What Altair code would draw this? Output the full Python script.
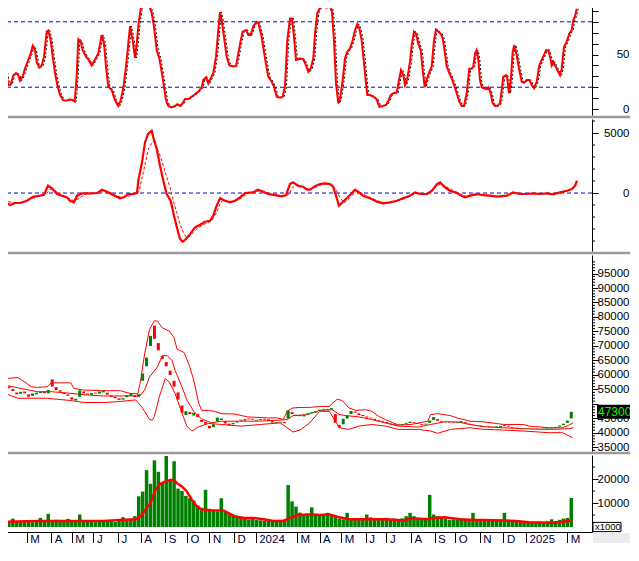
import json
import altair as alt
import pandas as pd

# ---------------- data (session index on x) ----------------
X_DOMAIN = [0, 592]

RSI_T = [0, 3.3, 6, 8.3, 10.7, 13.3, 16, 18.3, 20, 22.7, 25, 28.3, 30.7, 32.7, 35, 36.7, 39.3, 41.7, 44, 46.7,
         48.3, 50.7, 52.7, 55, 57.3, 60, 63.3, 66.7, 70, 72.7, 74.7, 76.7, 78.3, 80.7, 82.7, 86, 88.3, 91.7, 95, 98.3,
         101.7, 104, 106, 108.3, 111.7, 115, 118.3, 120.7, 123.3, 126, 128.3, 130, 132.7, 135, 136.7, 138.7, 140.7,
         144, 146.7, 149.3, 151.7, 154, 156.7, 159.3, 161.7, 164, 166, 168.3, 171.7, 175, 177.3, 180, 182.7, 185,
         188.3, 191.7, 195, 198.3, 201.7, 203.3, 206, 208.3, 210.7, 213.3, 216, 218.3, 220, 221.7, 224, 226.7, 229.3,
         233.3, 236, 238.3, 240.7, 242.7, 246, 248.3, 250.7, 253.3, 256.7, 258.3, 261.7, 265, 268.3, 271.7, 274,
         276.7, 280, 282.7, 285, 287.3, 290, 292, 294, 296, 298.3, 300, 303.3, 306, 308.3, 310.7, 313.3, 315, 317.3,
         320, 323.3, 326.7, 330, 332, 334, 336, 338.3, 340, 342.7, 345, 347.3, 350, 352.7, 355, 357.3, 359.3, 361.7,
         364, 366, 367.3, 370, 373.3, 376.7, 379.3, 382.7, 386, 388.3, 390.7, 393.3, 396.7, 399, 401, 403.3, 405,
         407.3, 410, 411.7, 414, 416, 418.3, 420.7, 422.7, 424.7, 426.7, 429.3, 431.7, 434, 436, 438.3, 440.7, 442.7,
         445, 446.7, 449.3, 451.7, 454, 456.7, 459.3, 461.7, 464, 466.7, 469.3, 471.7, 473.3, 475, 476.7, 478.3, 480,
         481.7, 484, 486.7, 488.3, 490.7, 492.7, 495, 497.3, 500, 501.7, 503.3, 506, 507.3, 509, 510.7, 512.7, 514.3,
         516.7, 519, 521.7, 524, 526.7, 529.3, 531.7, 534, 536.7, 539.3, 541.7, 544, 546, 548.3, 550, 551.7, 553.3,
         555, 557.3, 560, 561.7, 564, 566.7, 569.3, 571.7, 573.3, 575, 576.7]
RSI_V = [77, 51, 34, 22, 22.6, 31, 33, 31, 26, 30, 37, 45, 51, 58, 54, 43, 38, 40, 48, 71,
         72, 63, 48, 33, 22, 13, 8, 7.6, 8.9, 8, 6.7, 30, 64, 62, 54, 48, 45.5, 40, 45.5, 51,
         68, 60, 39, 20.5, 17.4, 8, 2.8, 8, 19, 39, 60, 76, 63, 47, 60, 79, 92,
         94.5, 96, 94.5, 88, 75.5, 54, 46.5, 34, 20.5, 8, 2.8, 1.5, 2.8, 4.3, 2.8, 5.2, 9.2,
         9.2, 11.3, 13.5, 16, 20, 26.6, 29, 23.5, 28, 33, 48, 72.5, 89, 81.6, 66, 48, 40,
         39, 39.4, 51, 63, 71, 72.5, 68, 68, 76, 80, 79, 66, 46.5, 29.7, 25, 20.5,
         11.3, 10.4, 11.3, 20.5, 63, 83, 83, 66, 45, 45.5, 46.5, 45.5, 40, 34, 37, 46.5, 69, 88,
         93, 94, 93, 94.5, 89, 63, 23.5, 5.2, 9.8, 26.6, 46.5, 52.6, 55.7, 63, 72.5, 78, 74, 63,
         42, 23.5, 12.8, 12.8, 11.3, 8.9, 2.1, 2.8, 3.7, 7.3, 12.8, 14.4, 15, 26.6, 35.8, 31, 22,
         28, 43.4, 58.7, 71, 69, 60, 54, 35.8, 20, 27, 34, 39, 63, 73, 71, 69, 65,
         51, 39, 33, 28, 22, 14.4, 6.7, 2.8, 2.8, 14.4, 37, 37, 39, 51, 54, 45, 26.6,
         20, 19, 18, 20, 14.4, 5.2, 2.8, 2.8, 5.2, 17.4, 29.7, 31, 28, 14.4, 25, 52.6, 58.7,
         49.5, 37, 25, 24, 26.6, 26.6, 22, 19, 25, 40, 45, 49.5, 54, 54, 48, 40, 43.4,
         40, 35.8, 31, 37, 57, 61.8, 69, 72.5, 81.6, 85, 92]
RSI_LEVELS = [20, 80]

MACD_T = [0, 5, 10, 15, 20, 27, 33, 40, 44, 48, 52, 57, 62, 67, 70, 74, 77, 82, 90, 97, 102, 107, 113, 120, 124,
          128, 133, 137, 138.3, 142, 145, 148, 151.7, 153.3, 156.7, 160, 163.3, 166.7, 170.7, 174, 177.3, 180,
          182.7, 186, 190, 195, 200, 205, 210, 213.3, 216.7, 220, 225, 230, 235, 240, 245, 253, 258, 263, 268, 275,
          282, 286, 290, 293, 298, 303, 307, 310, 315, 320, 325, 330, 333, 336, 339, 343, 350, 355, 358, 363, 370,
          377, 383, 390, 397, 403, 410, 415, 420, 427, 432, 437, 440, 445, 450, 457, 460, 465, 470, 477, 483, 490,
          497, 502, 507, 513, 520, 527, 533, 540, 547, 553, 560, 567, 572, 575, 577]
MACD_V = [-360, -720, -1000, -830, -830, -640, -305, -220, -140, 610, 390, -80, -220, -360, -640, -780, -220, -30,
          -30, 0, 280, 110, -170, -440, -360, -80, -80, 0, 1030, 2560, 4220, 4920, 5190, 4640, 3670, 2280, 1030, -80,
          -640, -1890, -3000, -3830, -4060, -3830, -3420, -2860, -2640, -2390, -2310, -1890, -1060, -440, -640, -780,
          -640, -360, 0, 55, 280, 110, -80, -170, -280, -170, 750, 890, 610, 530, 280, 280, 560, 750, 800, 750, 560,
          -220, -1060, -720, -170, 280, 110, -220, -440, -720, -860, -780, -640, -440, -220, 55, -80, -80, 190, 750,
          890, 470, 190, 0, -170, -360, -220, -80, -170, -220, -305, -260, -220, 55, -80, -80, -30, -80, -30, -110,
          55, 190, 330, 610, 1030]
SIGNAL_T = [0, 8, 16, 24, 32, 40, 46, 51, 56, 62, 68, 74, 79, 85, 95, 103, 108, 115, 122, 127, 134, 139, 143.3,
            148.3, 153.3, 156.7, 160, 163.3, 166.7, 170, 173.3, 176.7, 180, 183.3, 186.7, 190, 193.3, 196.7, 201.7,
            206.7, 211.7, 216.7, 220, 223, 228, 233, 238, 243, 248, 255, 260, 265, 270, 278, 285, 289, 292, 296, 301,
            306, 311, 316, 322, 327, 332, 336, 340, 344, 350, 356, 360, 365, 372, 379, 386, 393, 400, 407, 413, 418,
            425, 430, 435, 441, 446, 452, 458, 463, 468, 474, 480, 487, 494, 500, 506, 512, 517, 524, 531, 538, 545,
            552, 559, 565, 570, 574, 577]
SIGNAL_V = [-250, -700, -850, -750, -450, -250, -100, 350, 150, -150, -400, -650, -450, -100, -30, 150, 130, -150,
            -400, -300, -100, 100, 1720, 3670, 4360, 3810, 3110, 2280, 1310, 470, -640, -1610, -2580, -3280, -3700,
            -3610, -3280, -3000, -2720, -2500, -2310, -1610, -920, -560, -650, -720, -600, -300, -30, 50, 220, 120, -60,
            -180, -250, -100, 400, 700, 600, 380, 330, 500, 720, 780, 680, 300, -400, -800, -400, 120, 80, -180, -450,
            -700, -830, -750, -580, -380, -120, 20, -60, 50, 450, 800, 550, 250, 20, -200, -320, -200, -120, -180,
            -250, -280, -230, -50, 0, -70, -50, -60, -40, -80, 0, 130, 260, 450, 700]

CANDLE_T = list(range(0, 580, 4))
CANDLE_OPEN = [57500, 56000, 55200, 54000, 53500, 54300, 53300, 52800, 53300, 53800, 54200, 53700, 58500, 55800,
               54700, 53900, 53300, 52300, 51200, 52500, 54300, 53600, 53200, 53900, 53600, 54000, 53900, 53000,
               52500, 51900, 51500, 52300, 52800, 53000, 52500, 58000, 63000, 70000, 77000, 71000, 66500, 64500,
               61500, 58000, 54000, 49500, 46200, 47200, 46000, 46500, 44500, 43800, 42500, 42000, 44000, 44500,
               44000, 43200, 43000, 43600, 44600, 44300, 45000, 44900, 44300, 44500, 44600, 44700, 44100, 43500,
               43600, 43800, 45000, 47200, 46000, 46200, 45700, 46300, 46800, 47000, 47600, 48000, 48200, 48100,
               46500, 42800, 43000, 45000, 46500, 47400, 46800, 46200, 45700, 45300, 44900, 44400, 44200, 43800,
               43000, 43200, 43000, 42800, 43000, 43400, 43700, 43400, 43100, 42900, 43500, 44500, 44800, 44200,
               43700, 43900, 43700, 43400, 43600, 43700, 43200, 42900, 42400, 42600, 42200, 42400, 42200, 42100,
               42100, 42300, 42500, 42100, 41800, 41700, 41400, 41600, 41300, 41500, 41200, 41300, 41500, 41600,
               41800, 42200, 42700, 43500, 45000]
CANDLE_CLOSE = [56500, 55400, 54500, 53400, 54200, 53700, 52500, 53600, 53900, 54200, 53700, 54800, 56000, 54800,
                54200, 53400, 52800, 51500, 51800, 54700, 53700, 53200, 53800, 53600, 54300, 54700, 53200, 52500,
                52000, 51400, 52000, 53000, 53500, 52400, 53400, 60500, 66000, 73500, 72500, 68500, 65500, 63000,
                60000, 56000, 51500, 47000, 47500, 46500, 47000, 45500, 43800, 43200, 41600, 43000, 45300, 45000,
                43300, 42700, 43500, 44000, 44300, 44800, 44700, 44600, 44600, 44800, 44900, 44200, 43600, 43800,
                43900, 43400, 47800, 46500, 46300, 45800, 46200, 46800, 47100, 47500, 48000, 48300, 47900, 48600,
                43500, 41900, 44900, 46000, 47600, 47000, 46200, 45800, 45300, 45000, 44500, 44100, 43900, 43400,
                43300, 42800, 42700, 43100, 43400, 43900, 43400, 43100, 42800, 43200, 44300, 45500, 44200, 43900,
                43900, 43600, 43500, 43700, 44100, 43300, 42900, 42700, 42600, 42300, 42400, 42100, 42000, 42300,
                42400, 42700, 42200, 41800, 41600, 41500, 41600, 41400, 41500, 41300, 41400, 41500, 41700, 41800,
                42100, 42600, 43200, 44300, 47300]
LAST_CLOSE = 47300

BB_UPPER_T = [0, 13, 20, 27, 33, 43, 47, 67, 70, 80, 100, 117, 127, 135, 138, 142, 147, 152, 155, 160, 167, 172,
              175, 182, 187, 192, 197, 200, 207, 213, 220, 233, 247, 267, 277, 283, 287, 292, 300, 310, 320, 330,
              333, 338, 343, 350, 357, 367, 373, 380, 387, 400, 413, 430, 433, 440, 453, 460, 473, 487, 507, 527,
              533, 553, 567, 573, 578]
BB_UPPER = [58760, 59100, 57630, 55930, 55710, 55930, 57290, 57290, 55370, 54800, 54580, 54580, 53670, 53450, 58190,
            67230, 75710, 78760, 78530, 76270, 75140, 72880, 68930, 67800, 63840, 58190, 50280, 47800, 47800, 47460,
            46670, 46550, 45540, 45200, 45200, 44630, 47460, 48590, 48810, 48810, 49150, 49150, 50280, 51640, 51190,
            48590, 47800, 48020, 47460, 45760, 44630, 42710, 42940, 44070, 46330, 46670, 45990, 45200, 44070, 43840,
            42940, 42940, 42370, 41810, 41810, 42600, 43500]
BB_MID_T = [0, 13, 33, 47, 67, 83, 100, 117, 133, 137, 142, 147, 155, 160, 165, 170, 173, 180, 185, 192, 197, 200,
            210, 220, 233, 253, 273, 287, 293, 307, 320, 333, 340, 347, 360, 373, 387, 400, 420, 433, 447, 460, 473,
            487, 507, 527, 553, 573, 578]
BB_MID = [56500, 55590, 54240, 54240, 53670, 53110, 52770, 52770, 52770, 52770, 54800, 59320, 62710, 66670, 66670,
          64970, 61580, 55930, 51410, 47460, 45760, 44860, 43500, 44070, 44070, 44070, 44290, 44630, 45990, 46330,
          47800, 48020, 46330, 45990, 45540, 44630, 43500, 42370, 42030, 42940, 43840, 43840, 42940, 42150, 41810,
          41470, 41240, 41470, 41810]
BB_LOWER_T = [0, 13, 27, 43, 53, 67, 80, 100, 117, 133, 140, 147, 150, 152, 157, 163, 167, 173, 180, 185, 190, 197,
              207, 220, 240, 260, 280, 287, 293, 300, 310, 320, 330, 340, 350, 360, 373, 387, 400, 420, 433, 440, 453,
              473, 487, 507, 527, 553, 567, 577]
BB_LOWER = [53670, 51980, 51980, 51980, 51640, 51190, 50510, 50510, 50850, 51410, 48590, 44630, 44410, 45760, 52540,
            58760, 57630, 53670, 46890, 42370, 40680, 42150, 43280, 42940, 42370, 42940, 43500, 41810, 40340, 41020,
            43500, 47460, 47460, 41810, 41240, 42370, 42940, 42370, 41240, 41240, 40680, 39890, 41240, 41810, 41240,
            41020, 40680, 40110, 40110, 38420]

VOL_T = list(range(0, 580, 4))
VOLUME = [2200, 2500, 3500, 2500, 2200, 2800, 2300, 2000, 2400, 3800, 2500, 5500, 2800, 3000, 2200, 2600, 3400,
          2500, 2300, 5200, 2600, 2200, 2400, 2000, 2100, 2300, 2200, 2400, 2100, 2500, 4100, 2600, 3000, 4500,
          12800, 14800, 23700, 18000, 27800, 23000, 18500, 29600, 19600, 27400, 16000, 15000, 13000, 12000, 11000,
          9000, 8000, 15500, 7500, 7000, 6500, 12000, 6500, 5800, 5200, 4500, 4000, 3500, 3200, 3500, 3000, 2800,
          2700, 2700, 2500, 2600, 2400, 2500, 17500, 10700, 8500, 6000, 5200, 5500, 8200, 5000, 5000, 5200, 5900,
          4800, 4500, 3500, 3200, 5900, 3000, 3200, 3000, 3500, 5200, 4000, 3600, 3000, 3200, 3800, 3000, 3500,
          3200, 3600, 4500, 5900, 4500, 3800, 3500, 3800, 13400, 5200, 4500, 4200, 3500, 3000, 3200, 3000, 3500,
          3200, 3200, 5900, 3000, 3200, 2800, 3000, 3200, 2800, 3000, 5900, 3000, 2600, 2400, 2200, 2500, 2300,
          2200, 2000, 2200, 2000, 2400, 3200, 2500, 3000, 3500, 3800, 12100]
VOL_MA_T = [0, 33, 67, 100, 117, 133, 138, 143, 148, 153, 158, 163, 168, 172, 175, 180, 185, 190, 195, 200, 210, 222,
            227, 233, 243, 253, 263, 273, 283, 290, 297, 307, 313, 320, 330, 340, 350, 370, 387, 407, 413, 430, 435,
            447, 453, 463, 477, 487, 507, 520, 533, 553, 560, 567, 577]
VOL_MA = [2200, 2500, 2500, 2500, 2900, 3200, 4500, 7300, 10000, 15500, 18000, 18900, 19600, 19600, 18200, 16900,
          14800, 11400, 8600, 7300, 7000, 6900, 5900, 4500, 3800, 3800, 3200, 2500, 2500, 3800, 4900, 5200, 5200, 5000,
          5200, 4100, 3200, 3200, 3200, 2700, 3600, 3200, 3800, 4100, 3800, 3200, 2900, 2900, 2700, 2500, 2000, 1800,
          1800, 2200, 2700]

MONTH_T = [22, 47, 68, 90, 115, 138, 163, 185, 208, 233, 255, 297, 320, 342, 367, 388, 413, 437, 458, 483, 507,
           530, 572]
MONTH_LABELS = ["M", "A", "M", "J", "J", "A", "S", "O", "N", "D", "2024", "M", "A", "M", "J", "J", "A", "S", "O",
                "N", "D", "2025", "M"]

# ---------------- styling ----------------
W = 592
H_RSI, H_MACD, H_PRICE, H_VOL = 115, 132, 196, 77
FONT = "Liberation Sans"
RED, GREEN, BLUE = "#ff0000", "#008000", "#0000cc"
SEP = "#9a9a9a"
TICK, MINOR_TICK = 6, 3
LABEL_RIGHT = 629

xs = alt.Scale(domain=X_DOMAIN, nice=False, zero=False)


def X(axis=None):
    return alt.X("t:Q", scale=xs, axis=axis)


def yaxis(values, shown):
    return alt.Axis(orient="right", values=values, tickSize=TICK, labelPadding=LABEL_RIGHT - W - TICK,
                    labelAlign="right", format="d", title=None, grid=False,
                    labelExpr="indexof(%s, datum.value) >= 0 ? datum.label : ''" % json.dumps(shown))


one = pd.DataFrame({"a": [0]})


def separator():
    return alt.Chart(one).mark_rule(color=SEP, strokeWidth=2.5).encode(
        x=alt.value(0), x2=alt.value(LABEL_RIGHT + 10), y=alt.value(-2))


def minor(values, yfn):
    return alt.Chart(pd.DataFrame({"v": values})).mark_rule(color="black", strokeWidth=1).encode(
        y=yfn(), x=alt.value(W), x2=alt.value(W + MINOR_TICK))


# ---- RSI ----
rsi_scale = alt.Scale(domain=[-5.5, 100], nice=False, zero=False)
rsi_axis = yaxis(list(range(0, 100, 10)), [0, 50])


def Yr():
    return alt.Y("v:Q", scale=rsi_scale, axis=rsi_axis)


rsi_df = pd.DataFrame({"t": RSI_T, "v": RSI_V})
rsi = alt.layer(
    alt.Chart(pd.DataFrame({"v": RSI_LEVELS})).mark_rule(color=BLUE, strokeDash=[4, 3], strokeWidth=1).encode(
        y=Yr(), x=alt.value(0), x2=alt.value(W)),
    alt.Chart(rsi_df).mark_line(color="black", strokeWidth=1, strokeDash=[2, 2], xOffset=1.5).encode(x=X(), y=Yr()),
    alt.Chart(rsi_df).mark_line(color=RED, strokeWidth=2).encode(x=X(), y=Yr()),
).properties(width=W, height=H_RSI)

# ---- MACD ----
macd_scale = alt.Scale(domain=[-4830, 6170], nice=False, zero=False)
macd_axis = yaxis([0, 5000], [0, 5000])


def Ym():
    return alt.Y("v:Q", scale=macd_scale, axis=macd_axis)


macd = alt.layer(
    separator(),
    minor([-4000, -3000, -2000, -1000, 1000, 2000, 3000, 4000, 6000], Ym),
    alt.Chart(pd.DataFrame({"v": [0]})).mark_rule(color=BLUE, strokeDash=[4, 3], strokeWidth=1).encode(
        y=Ym(), x=alt.value(0), x2=alt.value(W)),
    alt.Chart(pd.DataFrame({"t": SIGNAL_T, "v": SIGNAL_V})).mark_line(
        color=RED, strokeWidth=1, strokeDash=[3, 2]).encode(x=X(), y=Ym()),
    alt.Chart(pd.DataFrame({"t": MACD_T, "v": MACD_V})).mark_line(color=RED, strokeWidth=2.2).encode(x=X(), y=Ym()),
).properties(width=W, height=H_MACD)

# ---- Price ----
price_scale = alt.Scale(domain=[33790, 101380], nice=False, zero=False)
price_major = list(range(35000, 100000, 5000))
price_axis = yaxis(price_major, [v for v in price_major if v != 50000])


def Yp(field="v"):
    return alt.Y(field + ":Q", scale=price_scale, axis=price_axis)


candles = pd.DataFrame({"t": CANDLE_T, "open": CANDLE_OPEN, "close": CANDLE_CLOSE})
bands = pd.concat([
    pd.DataFrame({"t": BB_UPPER_T, "v": BB_UPPER, "s": "upper"}),
    pd.DataFrame({"t": BB_MID_T, "v": BB_MID, "s": "mid"}),
    pd.DataFrame({"t": BB_LOWER_T, "v": BB_LOWER, "s": "lower"}),
])
last = pd.DataFrame({"v": [LAST_CLOSE], "txt": ["%.2f" % LAST_CLOSE]})
price = alt.layer(
    separator(),
    minor([v for v in range(34000, 101000, 1000) if v % 5000], Yp),
    alt.Chart(bands).mark_line(color=RED, strokeWidth=1).encode(x=X(), y=Yp(), detail="s:N"),
    alt.Chart(candles).mark_bar(width=3, orient="vertical").encode(
        x=X(), y=Yp("open"), y2="close:Q",
        color=alt.condition("datum.close >= datum.open", alt.value(GREEN), alt.value(RED))),
    alt.Chart(last).mark_rule(color="black", strokeWidth=14).encode(
        y=Yp(), x=alt.value(W + 5), x2=alt.value(LABEL_RIGHT + 10)),
    alt.Chart(last).mark_text(align="left", baseline="middle", color="#00ff00", font=FONT, fontSize=12).encode(
        y=Yp(), x=alt.value(W + 6), text="txt:N"),
).properties(width=W, height=H_PRICE)

# ---- Volume ----
vol_scale = alt.Scale(domain=[-2080, 30000], nice=False, zero=False)
vol_axis = yaxis([10000, 20000], [10000, 20000])


def Yv():
    return alt.Y("v:Q", scale=vol_scale, axis=vol_axis)


x_axis = alt.Axis(values=MONTH_T, tickSize=13, labelPadding=-12, labelAlign="left", labelBaseline="top",
                  labelOffset=3, labelFont=FONT, labelFontSize=11.5, labelColor="#000040", labelOverlap=False,
                  labelFlush=False, title=None, grid=False, domainColor="black", tickColor="black",
                  labelExpr="%s[indexof(%s, datum.value)]" % (json.dumps(MONTH_LABELS), json.dumps(MONTH_T)))

unit = pd.DataFrame({"v": [0], "txt": ["x1000"]})
vol = alt.layer(
    separator(),
    minor([5000, 15000, 25000], Yv),
    alt.Chart(one).mark_rule(color="#ececec", strokeWidth=12).encode(
        x=alt.value(W + 1), x2=alt.value(LABEL_RIGHT + 10), y=alt.value(H_VOL + 7)),
    alt.Chart(pd.DataFrame({"t": VOL_T, "v": VOLUME})).mark_bar(width=3.5, orient="vertical", color=GREEN).encode(
        x=X(x_axis), y=Yv(), y2=alt.datum(0)),
    alt.Chart(pd.DataFrame({"t": VOL_MA_T, "v": VOL_MA})).mark_line(color=RED, strokeWidth=2.5).encode(
        x=X(x_axis), y=Yv()),
    alt.Chart(unit).mark_point(shape="M-1,-0.33L1,-0.33L1,0.33L-1,0.33Z", size=784, filled=True, fill="white",
                               stroke="black", strokeWidth=1, opacity=1).encode(x=alt.value(W + 15), y=Yv()),
    alt.Chart(unit).mark_text(align="left", baseline="middle", font=FONT, fontSize=9.5, color="black").encode(
        x=alt.value(W + 3), y=Yv(), text="txt:N"),
).properties(width=W, height=H_VOL)

# negative padding: the page keeps an 8px margin, so the drawing is pulled up-left to line up with the page edge
chart = alt.vconcat(rsi, macd, price, vol, spacing=4, bounds="flush").properties(
    padding={"left": -13, "top": -8, "right": -19, "bottom": -3}
).configure_view(stroke=None).configure_axis(
    labelFont=FONT, labelFontSize=11.5, labelColor="black", domainColor="black", tickColor="black",
    domainWidth=1, tickWidth=1
)

chart.save("out.html", embed_options={"renderer": "svg", "actions": False})
